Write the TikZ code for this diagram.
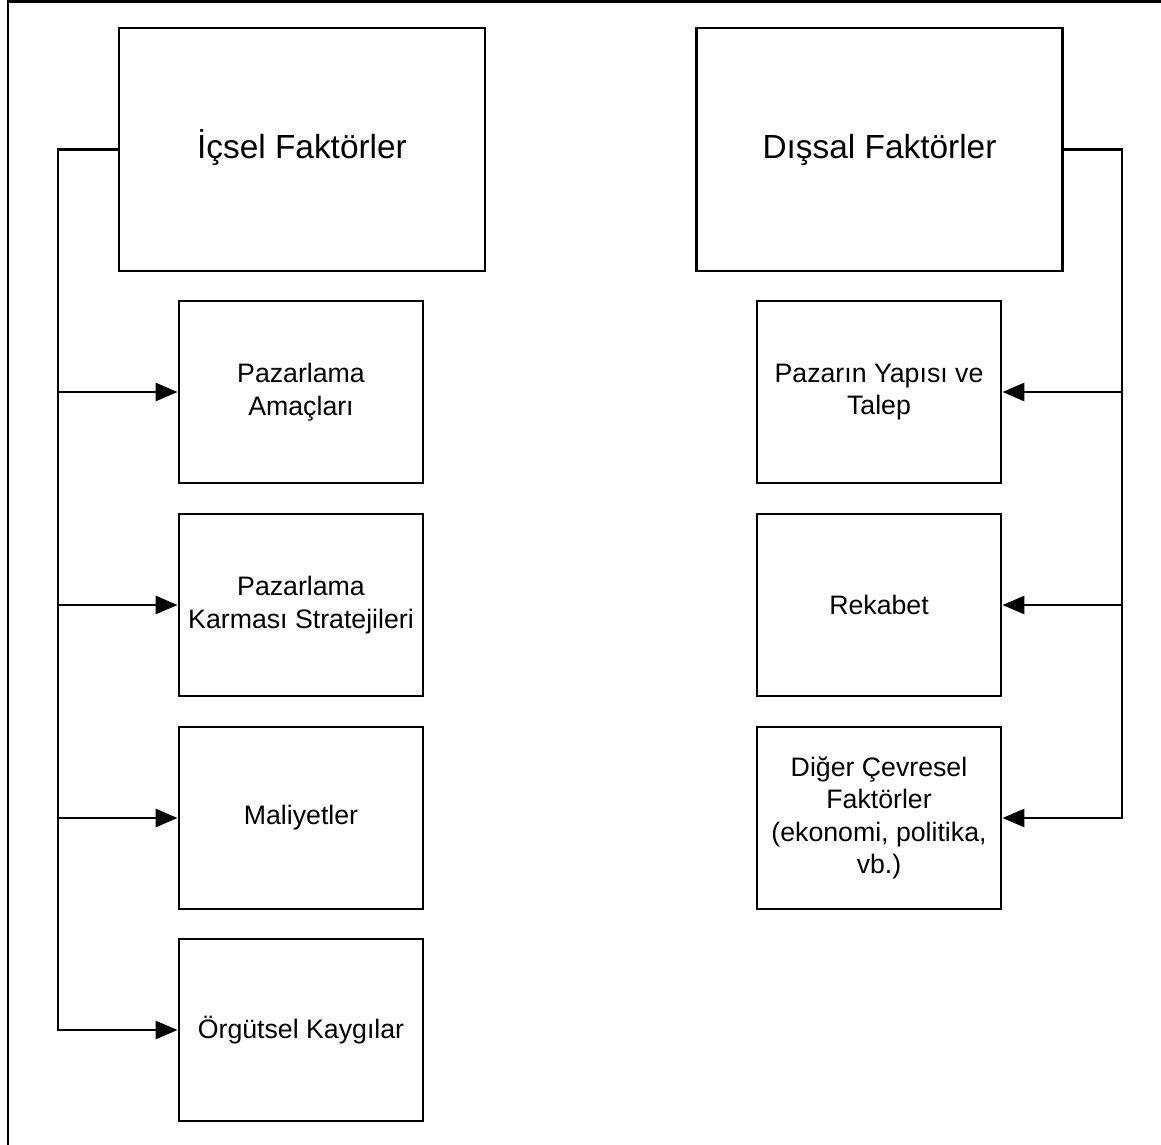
\documentclass[tikz,border=0pt]{standalone}
\usepackage{fontspec}
\setmainfont{Liberation Sans}
\usetikzlibrary{arrows.meta}
\begin{document}
\begin{tikzpicture}[x=1pt,y=-1pt,
  line width=2.9pt,
  headbox/.style={draw, minimum width=366pt, minimum height=243pt,
    font=\fontsize{33.4}{38}\selectfont, inner sep=0pt,
    text height=24pt, text depth=7pt},
  itembox/.style={draw, minimum width=244pt, minimum height=182pt,
    align=center, font=\fontsize{26.7}{32.5}\selectfont, inner sep=0pt},
  arr/.style={-{Triangle[length=22pt,width=18pt]}},
  link/.style={line join=miter}]
\useasboundingbox (0,0) rectangle (1161,1144);
\clip (0,0) rectangle (1161,1144);
\fill[white] (0,0) rectangle (1161,1144);
% outer frame, running past the page edges on the right and bottom
\draw (8,1160) -- (8,1.5) -- (1175,1.5);

% internal factors
\node[headbox] (ic) at (302,149.5) {İçsel Faktörler};
\node[itembox] (i1) at (301,392) {Pazarlama\\Amaçları};
\node[itembox] (i2) at (301,605) {Pazarlama\\Karması Stratejileri};
\node[itembox] (i3) at (301,818) {Maliyetler};
\node[itembox] (i4) at (301,1030) {Örgütsel Kaygılar};

% external factors
\node[headbox] (dis) at (879.5,149.5) {Dışsal Faktörler};
\node[itembox] (d1) at (879,392) {Pazarın Yapısı ve\\Talep};
\node[itembox] (d2) at (879,605) {Rekabet};
\node[itembox] (d3) at (879,818) {Diğer Çevresel\\Faktörler\\(ekonomi, politika,\\vb.)};

% left trunk
\coordinate (lt) at (58,149.5);
\draw[arr,link] (ic.west) -- (lt) |- (i4.west);
\draw[arr] (lt |- i1.west) -- (i1.west);
\draw[arr] (lt |- i2.west) -- (i2.west);
\draw[arr] (lt |- i3.west) -- (i3.west);

% right trunk
\coordinate (rt) at (1122,149.5);
\draw[arr,link] (dis.east) -- (rt) |- (d3.east);
\draw[arr] (rt |- d1.east) -- (d1.east);
\draw[arr] (rt |- d2.east) -- (d2.east);
\end{tikzpicture}
\end{document}
